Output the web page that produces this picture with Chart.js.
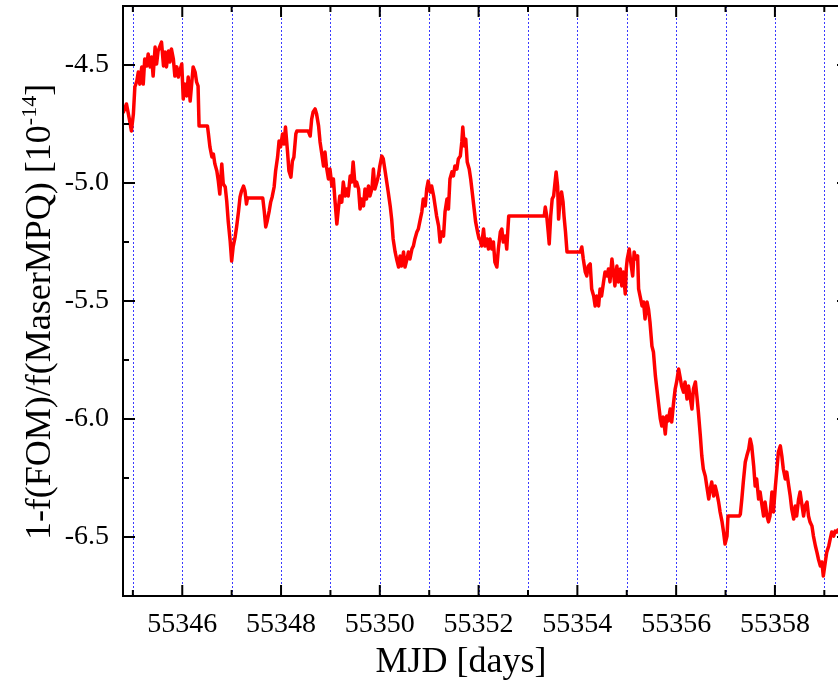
<!DOCTYPE html>
<html>
<head>
<meta charset="utf-8">
<script src="https://cdn.jsdelivr.net/npm/chart.js@4.4.1/dist/chart.umd.min.js"></script>
<style>
  html, body { margin: 0; padding: 0; background: #fff; overflow: hidden; }
  #wrap { position: relative; width: 860px; height: 685px; }
</style>
</head>
<body>
<div id="wrap"><canvas id="chart" width="860" height="685"></canvas></div>
<script>
// MJD of each sample
const mjd = [
  55344.80, 55344.81, 55344.87, 55344.91, 55344.94, 55344.97, 55345.01, 55345.04, 55345.08, 55345.11,
  55345.14, 55345.18, 55345.21, 55345.24, 55345.28, 55345.31, 55345.35, 55345.38, 55345.41, 55345.45,
  55345.48, 55345.51, 55345.55, 55345.58, 55345.62, 55345.65, 55345.68, 55345.72, 55345.75, 55345.78,
  55345.82, 55345.85, 55345.89, 55345.92, 55345.95, 55345.99, 55346.02, 55346.05, 55346.09, 55346.12,
  55346.16, 55346.19, 55346.22, 55346.26, 55346.29, 55346.32, 55346.34, 55346.51, 55346.53, 55346.56,
  55346.60, 55346.63, 55346.66, 55346.70, 55346.73, 55346.76, 55346.80, 55346.83, 55346.87, 55346.90,
  55346.93, 55346.97, 55347.00, 55347.03, 55347.07, 55347.10, 55347.14, 55347.17, 55347.20, 55347.24,
  55347.27, 55347.30, 55347.32, 55347.63, 55347.66, 55347.69, 55347.72, 55347.76, 55347.79, 55347.82,
  55347.86, 55347.89, 55347.93, 55347.96, 55347.99, 55348.03, 55348.06, 55348.09, 55348.13, 55348.16,
  55348.20, 55348.23, 55348.26, 55348.30, 55348.32, 55348.55, 55348.59, 55348.62, 55348.65, 55348.69,
  55348.72, 55348.76, 55348.79, 55348.82, 55348.86, 55348.89, 55348.92, 55348.96, 55348.99, 55349.03,
  55349.06, 55349.09, 55349.13, 55349.16, 55349.19, 55349.23, 55349.26, 55349.30, 55349.33, 55349.36,
  55349.40, 55349.43, 55349.46, 55349.50, 55349.53, 55349.57, 55349.60, 55349.63, 55349.67, 55349.70,
  55349.73, 55349.77, 55349.80, 55349.84, 55349.87, 55349.90, 55349.94, 55349.97, 55350.00, 55350.04,
  55350.07, 55350.11, 55350.14, 55350.17, 55350.21, 55350.24, 55350.27, 55350.31, 55350.34, 55350.38,
  55350.41, 55350.44, 55350.48, 55350.51, 55350.55, 55350.58, 55350.61, 55350.65, 55350.68, 55350.71,
  55350.75, 55350.78, 55350.82, 55350.85, 55350.88, 55350.92, 55350.95, 55350.98, 55351.02, 55351.05,
  55351.09, 55351.12, 55351.15, 55351.19, 55351.22, 55351.25, 55351.29, 55351.32, 55351.36, 55351.39,
  55351.42, 55351.46, 55351.49, 55351.52, 55351.56, 55351.59, 55351.63, 55351.66, 55351.68, 55351.71,
  55351.74, 55351.77, 55351.81, 55351.84, 55351.88, 55351.91, 55351.94, 55351.98, 55352.01, 55352.03,
  55352.06, 55352.10, 55352.13, 55352.17, 55352.20, 55352.23, 55352.27, 55352.30, 55352.33, 55352.37,
  55352.40, 55352.44, 55352.47, 55352.50, 55352.54, 55352.57, 55352.59, 55352.61, 55353.33, 55353.35,
  55353.38, 55353.41, 55353.43, 55353.46, 55353.49, 55353.52, 55353.54, 55353.57, 55353.60, 55353.62,
  55353.65, 55353.68, 55353.71, 55353.73, 55353.76, 55353.79, 55354.06, 55354.09, 55354.12, 55354.16,
  55354.19, 55354.22, 55354.26, 55354.29, 55354.33, 55354.36, 55354.39, 55354.43, 55354.46, 55354.49,
  55354.53, 55354.56, 55354.60, 55354.63, 55354.66, 55354.70, 55354.73, 55354.76, 55354.80, 55354.83,
  55354.87, 55354.90, 55354.93, 55354.97, 55354.99, 55355.01, 55355.05, 55355.08, 55355.12, 55355.15,
  55355.18, 55355.22, 55355.24, 55355.27, 55355.31, 55355.34, 55355.37, 55355.41, 55355.44, 55355.47,
  55355.51, 55355.54, 55355.58, 55355.61, 55355.64, 55355.68, 55355.71, 55355.74, 55355.78, 55355.81,
  55355.84, 55355.88, 55355.91, 55355.95, 55355.98, 55356.01, 55356.05, 55356.08, 55356.11, 55356.15,
  55356.18, 55356.22, 55356.25, 55356.28, 55356.32, 55356.35, 55356.39, 55356.42, 55356.45, 55356.49,
  55356.52, 55356.55, 55356.59, 55356.62, 55356.66, 55356.69, 55356.72, 55356.76, 55356.79, 55356.82,
  55356.86, 55356.89, 55356.93, 55356.96, 55356.99, 55357.03, 55357.05, 55357.28, 55357.30, 55357.33,
  55357.36, 55357.40, 55357.43, 55357.47, 55357.50, 55357.53, 55357.57, 55357.60, 55357.63, 55357.67,
  55357.70, 55357.74, 55357.77, 55357.80, 55357.84, 55357.87, 55357.90, 55357.94, 55357.97, 55358.01,
  55358.04, 55358.07, 55358.11, 55358.14, 55358.17, 55358.21, 55358.24, 55358.28, 55358.31, 55358.34,
  55358.38, 55358.41, 55358.44, 55358.48, 55358.51, 55358.55, 55358.58, 55358.61, 55358.65, 55358.68,
  55358.71, 55358.75, 55358.78, 55358.82, 55358.85, 55358.88, 55358.92, 55358.95, 55358.98, 55359.02,
  55359.05, 55359.09, 55359.12, 55359.15, 55359.19, 55359.22, 55359.25, 55359.29
];

// 1 - f(FOM)/f(MaserMPQ), units of 1e-14
const fracDiff = [
  -4.680, -4.699, -4.665, -4.708, -4.742, -4.780, -4.708, -4.593, -4.568, -4.530,
  -4.581, -4.508, -4.581, -4.475, -4.504, -4.453, -4.508, -4.466, -4.547, -4.424,
  -4.496, -4.441, -4.419, -4.403, -4.504, -4.445, -4.508, -4.441, -4.487, -4.432,
  -4.475, -4.547, -4.508, -4.551, -4.525, -4.496, -4.644, -4.581, -4.631, -4.551,
  -4.653, -4.581, -4.508, -4.530, -4.572, -4.589, -4.758, -4.758, -4.792, -4.847,
  -4.890, -4.877, -4.919, -4.949, -4.992, -5.047, -4.919, -5.004, -5.017, -5.076,
  -5.161, -5.246, -5.331, -5.271, -5.229, -5.186, -5.119, -5.059, -5.034, -5.013,
  -5.034, -5.089, -5.064, -5.064, -5.119, -5.186, -5.161, -5.119, -5.081, -5.059,
  -5.017, -4.949, -4.890, -4.822, -4.847, -4.792, -4.835, -4.763, -4.864, -4.949,
  -4.975, -4.907, -4.890, -4.792, -4.780, -4.780, -4.801, -4.729, -4.699, -4.686,
  -4.708, -4.758, -4.826, -4.869, -4.928, -4.869, -4.932, -4.983, -4.941, -5.013,
  -4.983, -5.068, -5.174, -5.110, -5.055, -5.081, -4.996, -5.055, -5.025, -5.055,
  -4.970, -4.996, -4.911, -5.013, -4.996, -5.025, -5.110, -5.068, -5.097, -5.025,
  -5.068, -5.013, -5.055, -5.025, -4.941, -5.025, -4.996, -4.970, -4.928, -4.886,
  -4.898, -4.953, -4.996, -5.038, -5.097, -5.153, -5.237, -5.292, -5.322, -5.356,
  -5.309, -5.352, -5.292, -5.356, -5.322, -5.292, -5.322, -5.280, -5.267, -5.237,
  -5.208, -5.195, -5.153, -5.123, -5.068, -5.097, -5.025, -4.992, -5.038, -5.013,
  -5.055, -5.097, -5.140, -5.182, -5.250, -5.208, -5.225, -5.123, -5.068, -5.110,
  -4.983, -4.953, -4.970, -4.928, -4.941, -4.898, -4.886, -4.826, -4.763, -4.843,
  -4.814, -4.911, -4.941, -4.983, -5.055, -5.110, -5.165, -5.208, -5.237, -5.237,
  -5.267, -5.195, -5.267, -5.237, -5.280, -5.237, -5.280, -5.250, -5.335, -5.356,
  -5.280, -5.208, -5.195, -5.250, -5.225, -5.280, -5.208, -5.140, -5.140, -5.102,
  -5.140, -5.208, -5.258, -5.140, -5.068, -5.055, -5.013, -4.953, -5.013, -5.153,
  -5.068, -5.038, -5.081, -5.140, -5.208, -5.292, -5.292, -5.271, -5.322, -5.377,
  -5.394, -5.352, -5.343, -5.449, -5.479, -5.521, -5.479, -5.521, -5.449, -5.479,
  -5.419, -5.377, -5.394, -5.364, -5.419, -5.322, -5.377, -5.436, -5.352, -5.419,
  -5.364, -5.436, -5.377, -5.470, -5.364, -5.322, -5.280, -5.335, -5.394, -5.292,
  -5.322, -5.309, -5.449, -5.479, -5.521, -5.504, -5.576, -5.504, -5.534, -5.589,
  -5.691, -5.716, -5.818, -5.873, -5.928, -6.000, -6.030, -5.992, -6.064, -5.987,
  -6.008, -5.958, -6.013, -5.928, -5.873, -5.843, -5.788, -5.822, -5.860, -5.886,
  -5.843, -5.915, -5.860, -5.903, -5.958, -5.873, -5.843, -5.903, -5.970, -6.072,
  -6.157, -6.212, -6.242, -6.284, -6.339, -6.297, -6.267, -6.326, -6.284, -6.309,
  -6.352, -6.394, -6.436, -6.479, -6.530, -6.496, -6.411, -6.411, -6.403, -6.339,
  -6.267, -6.182, -6.157, -6.127, -6.085, -6.114, -6.199, -6.284, -6.254, -6.339,
  -6.309, -6.369, -6.411, -6.352, -6.411, -6.436, -6.411, -6.309, -6.394, -6.284,
  -6.212, -6.140, -6.114, -6.157, -6.212, -6.254, -6.225, -6.284, -6.326, -6.381,
  -6.424, -6.369, -6.411, -6.339, -6.309, -6.369, -6.411, -6.369, -6.352, -6.411,
  -6.436, -6.453, -6.496, -6.538, -6.564, -6.593, -6.623, -6.606, -6.665, -6.606,
  -6.564, -6.538, -6.508, -6.479, -6.496, -6.475, -6.479, -6.466
];

const xMin = 55344.8, xMax = 55359.5;
const yMin = -6.75, yMax = -4.25;
const xLabelTicks = [55346, 55348, 55350, 55352, 55354, 55356, 55358];
const xMinorTicks = [55345, 55347, 55349, 55351, 55353, 55355, 55357, 55359];
const yLabelTicks = [-6.5, -6.0, -5.5, -5.0, -4.5];
const yMinorTicks = [-6.25, -5.75, -5.25, -4.75];
const gridDays = [55345, 55346, 55347, 55348, 55349, 55350, 55351, 55352,
                  55353, 55354, 55355, 55356, 55357, 55358, 55359];

const serif = "'Liberation Serif', 'Times New Roman', serif";

// dotted day lines behind the trace
const dayLines = {
  id: 'dayLines',
  beforeDatasetsDraw(chart) {
    const { ctx, chartArea: a, scales: { x } } = chart;
    ctx.save();
    ctx.strokeStyle = '#3a3aff';
    ctx.lineWidth = 1;
    ctx.setLineDash([2, 2]);
    gridDays.forEach(d => {
      const px = Math.round(x.getPixelForValue(d)) + 0.5;
      ctx.beginPath();
      ctx.moveTo(px, a.top);
      ctx.lineTo(px, a.bottom);
      ctx.stroke();
    });
    ctx.restore();
  }
};

// box frame with inward ticks, plus axis titles
const frame = {
  id: 'frame',
  afterDatasetsDraw(chart) {
    const { ctx, chartArea: a, scales: { x, y } } = chart;
    ctx.save();
    ctx.strokeStyle = '#000';
    ctx.lineWidth = 2;
    ctx.strokeRect(a.left, a.top, a.right - a.left, a.bottom - a.top);

    const tick = (x1, y1, x2, y2) => {
      ctx.beginPath(); ctx.moveTo(x1, y1); ctx.lineTo(x2, y2); ctx.stroke();
    };
    xLabelTicks.forEach(v => {
      const px = x.getPixelForValue(v);
      tick(px, a.bottom, px, a.bottom - 11);
      tick(px, a.top, px, a.top + 11);
    });
    xMinorTicks.forEach(v => {
      const px = x.getPixelForValue(v);
      tick(px, a.bottom, px, a.bottom - 6);
      tick(px, a.top, px, a.top + 6);
    });
    yLabelTicks.forEach(v => {
      const py = y.getPixelForValue(v);
      tick(a.left, py, a.left + 12, py);
      tick(a.right, py, a.right - 12, py);
    });
    yMinorTicks.forEach(v => {
      const py = y.getPixelForValue(v);
      tick(a.left, py, a.left + 6, py);
      tick(a.right, py, a.right - 6, py);
    });

    ctx.fillStyle = '#000';
    ctx.textBaseline = 'alphabetic';

    // x title
    ctx.font = `36px ${serif}`;
    ctx.textAlign = 'center';
    ctx.fillText('MJD [days]', 461, 672);

    // y title with superscript exponent
    const main = '1-f(FOM)/f(MaserMPQ) [10';
    const sup = '-14';
    const tail = ']';
    ctx.font = `36px ${serif}`;
    const wMain = ctx.measureText(main).width;
    const wTail = ctx.measureText(tail).width;
    ctx.font = `22px ${serif}`;
    const wSup = ctx.measureText(sup).width;
    const total = wMain + wSup + wTail;
    ctx.translate(50, 312);
    ctx.rotate(-Math.PI / 2);
    ctx.textAlign = 'left';
    let cx = -total / 2;
    ctx.font = `36px ${serif}`;
    ctx.fillText(main, cx, 0);
    cx += wMain;
    ctx.font = `22px ${serif}`;
    ctx.fillText(sup, cx, -14);
    cx += wSup;
    ctx.font = `36px ${serif}`;
    ctx.fillText(tail, cx, 0);
    ctx.restore();
  }
};

new Chart(document.getElementById('chart'), {
  type: 'line',
  data: {
    datasets: [{
      data: mjd.map((d, i) => ({ x: d, y: fracDiff[i] })),
      borderColor: '#ff0000',
      borderWidth: 3.5,
      borderJoinStyle: 'round',
      pointRadius: 0,
      tension: 0,
      fill: false
    }]
  },
  options: {
    responsive: false,
    animation: false,
    devicePixelRatio: 1,
    layout: { padding: { top: 6, right: 11, bottom: 0, left: 0 } },
    plugins: { legend: { display: false }, tooltip: { enabled: false } },
    scales: {
      x: {
        type: 'linear',
        min: xMin,
        max: xMax,
        grid: { display: false, drawTicks: false },
        border: { display: false },
        afterBuildTicks: s => { s.ticks = xLabelTicks.map(v => ({ value: v })); },
        afterFit: s => { s.height = 89; s.paddingLeft = 0; s.paddingRight = 0; },
        ticks: {
          autoSkip: false,
          maxRotation: 0,
          padding: 12,
          color: '#000',
          font: { family: serif, size: 28 },
          callback: v => String(v)
        }
      },
      y: {
        min: yMin,
        max: yMax,
        grid: { display: false, drawTicks: false },
        border: { display: false },
        afterBuildTicks: s => { s.ticks = yLabelTicks.map(v => ({ value: v })); },
        afterFit: s => { s.width = 123; s.paddingTop = 0; s.paddingBottom = 0; },
        ticks: {
          padding: 14,
          color: '#000',
          font: { family: serif, size: 28 },
          callback: v => v.toFixed(1)
        }
      }
    }
  },
  plugins: [dayLines, frame]
});
</script>
</body>
</html>
